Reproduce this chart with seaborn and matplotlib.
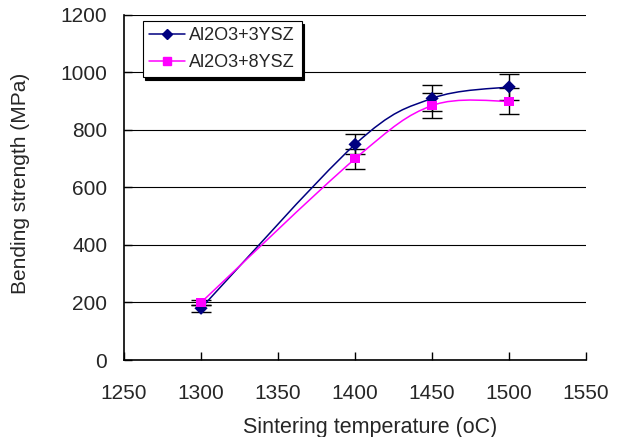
import numpy as np
import pandas as pd
import matplotlib
matplotlib.use("Agg")
import matplotlib.pyplot as plt
import seaborn as sns
from matplotlib.path import Path
from matplotlib.patches import PathPatch
from matplotlib.lines import Line2D

# data
temps = [1300, 1400, 1450, 1500]
ysz3 = [180, 750, 910, 950]
ysz3_err = [12, 35, 45, 45]
ysz8 = [200, 700, 885, 900]
ysz8_err = [8, 35, 45, 45]
names = ["Al2O3+3YSZ", "Al2O3+8YSZ"]

sns.set_theme(style="white")
plt.rcParams['font.family'] = ['Liberation Sans', 'DejaVu Sans']

df = pd.DataFrame({
    "temp": temps * 2,
    "strength": ysz3 + ysz8,
    "series": [names[0]] * 4 + [names[1]] * 4,
})
palette = {names[0]: "#000080", names[1]: "#FF00FF"}

fig = plt.figure(figsize=(6.17, 4.37), dpi=100)
ax = fig.add_axes([0.201, 0.1762, 0.749, 0.7895])


def smooth_path(x, y, t=1/6):
    # Excel-like smoothed line: cubic Bezier through the points
    pts = np.column_stack([x, y]).astype(float)
    verts = [pts[0]]
    codes = [Path.MOVETO]
    n = len(pts)
    for i in range(n - 1):
        p0 = pts[i - 1] if i > 0 else pts[i]
        p1, p2 = pts[i], pts[i + 1]
        p3 = pts[i + 2] if i + 2 < n else pts[i + 1]
        c1 = p1 + (p2 - p0) * t
        c2 = p2 - (p3 - p1) * t
        verts += [c1, c2, p2]
        codes += [Path.CURVE4] * 3
    return Path(verts, codes)


for name, vals, err in [(names[0], ysz3, ysz3_err), (names[1], ysz8, ysz8_err)]:
    ax.errorbar(temps, vals, yerr=err, fmt="none", ecolor="black",
                elinewidth=1, capsize=7, capthick=1, zorder=2)
    ax.add_patch(PathPatch(smooth_path(temps, vals), fill=False,
                           edgecolor=palette[name], lw=1.1, zorder=3))

sns.scatterplot(data=df, x="temp", y="strength", hue="series", style="series",
                markers={names[0]: "D", names[1]: "s"},
                palette=palette, s=45, edgecolor=None, linewidth=0,
                ax=ax, zorder=4, legend=False)

handles = [Line2D([], [], color="#000080", marker="D", markersize=5.5, lw=1.1),
           Line2D([], [], color="#FF00FF", marker="s", markersize=6, lw=1.1)]
leg = ax.legend(handles, names, loc="upper left",
                bbox_to_anchor=(0.04, 0.983), frameon=True, fancybox=False,
                shadow={"color": "black", "alpha": 1}, fontsize=13,
                edgecolor="black", handlelength=2.0, handletextpad=0.25,
                borderpad=0.35, labelspacing=0.55, borderaxespad=0)
leg.get_frame().set_linewidth(0.8)

ax.set_xlim(1250, 1550)
ax.set_ylim(0, 1200)
ax.set_xticks(range(1250, 1551, 50))
ax.set_yticks(range(0, 1201, 200))
ax.yaxis.grid(True, color="black", lw=0.8)
ax.set_axisbelow(True)
for s in ["top", "right"]:
    ax.spines[s].set_visible(False)
for s in ["left", "bottom"]:
    ax.spines[s].set_color("black")
    ax.spines[s].set_linewidth(1.2)
ax.tick_params(axis="both", direction="in", length=6, width=1,
               color="black", labelsize=15, bottom=True, left=True)
ax.tick_params(axis="x", pad=17)
ax.tick_params(axis="y", pad=12)
ax.set_xlabel("Sintering temperature (oC)", fontsize=15.5, labelpad=10)
ax.set_ylabel("Bending strength (MPa)", fontsize=15, labelpad=22)
ax.xaxis.label.set_x(0.532)
ax.yaxis.label.set_y(0.513)

fig.savefig("out.png", dpi=100)
